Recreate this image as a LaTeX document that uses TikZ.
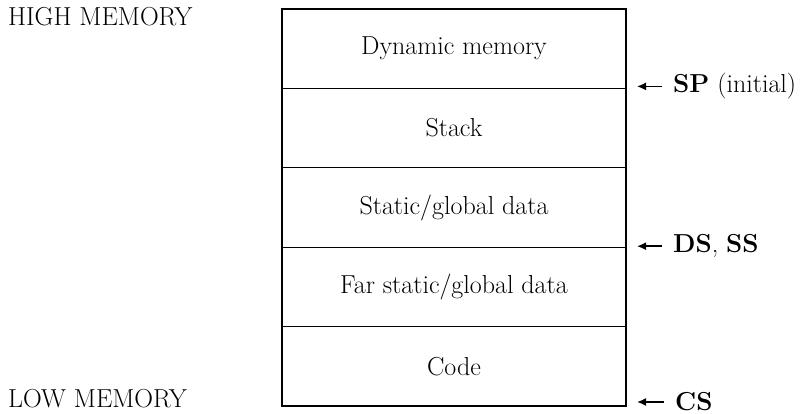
\documentclass[tikz,border=0pt]{standalone}
\usetikzlibrary{positioning,arrows.meta}

\tikzset{
	seg/.style={draw, line width=1.3pt, outer sep=0pt, minimum width=344pt, minimum height=79.4pt, font=\fontsize{26}{30}\selectfont},
	side/.style={inner sep=0pt, font=\fontsize{26}{30}\selectfont},
	ptr/.style={line width=1.5pt, -{Latex[length=9pt,width=8pt]}, shorten <=11pt}
}

\begin{document}
\begin{tikzpicture}[x=1pt,y=-1pt]
			\useasboundingbox (0,0) rectangle (802,414);

			\node[seg] (dyn) at (454,48.7) {Dynamic memory};
			\node[seg, below=0pt of dyn] (stack) {Stack};
			\node[seg, below=0pt of stack] (stat) {Static/global data};
			\node[seg, below=0pt of stat] (far) {Far static/global data};
			\node[seg, below=0pt of far] (code) {Code};

			\node[side, anchor=base west] (high) at (8,26) {HIGH MEMORY};
			\node[side, anchor=base west] (low) at (8,407) {LOW MEMORY};

			\coordinate (sptip) at ([xshift=11pt,yshift=2pt]stack.north east);
			\coordinate (dstip) at ([xshift=11pt,yshift=1pt]far.north east);
			\coordinate (cstip) at ([xshift=11pt,yshift=4pt]code.south east);

			\node[side, anchor=west] (sp) at (673,0 |- sptip) {\textbf{SP} (initial)};
			\node[side, anchor=west] (ds) at (673,0 |- dstip) {\textbf{DS}, \textbf{SS}};
			\node[side, anchor=west] (cs) at (675,0 |- cstip) {\textbf{CS}};

			\draw[ptr] (sp.west) -- (sptip);
			\draw[ptr] (ds.west) -- (dstip);
			\draw[ptr] (cs.west) -- (cstip);
		\end{tikzpicture}
\end{document}
